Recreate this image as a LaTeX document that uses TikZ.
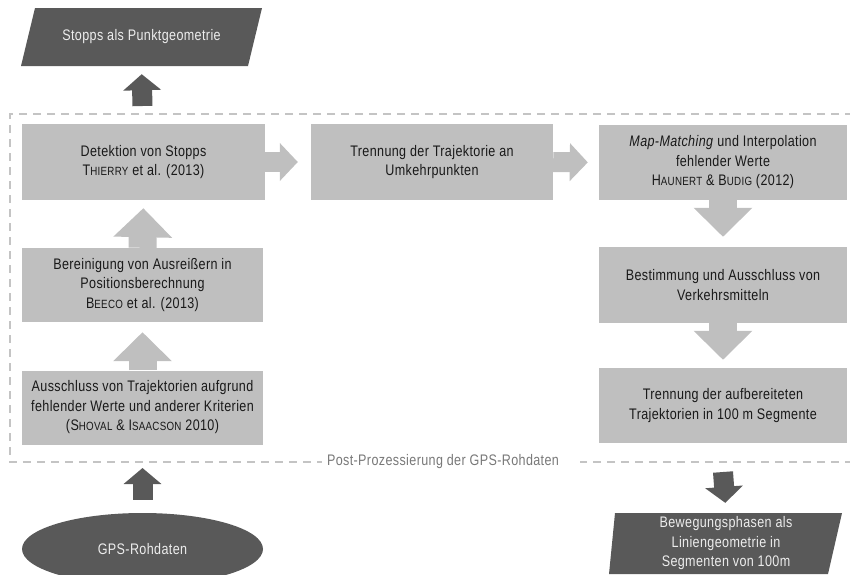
\documentclass[tikz,border=0pt]{standalone}
\usepackage{fontspec}
\setmainfont{Liberation Sans}
\newfontfamily\narrowfont[FakeStretch=0.82, LetterSpace=2.5]{Liberation Sans}
\usetikzlibrary{arrows.meta,shapes.geometric}
\definecolor{boxgray}{RGB}{191,191,191}
\definecolor{darkgray2}{RGB}{89,89,89}
\definecolor{dashgray}{RGB}{196,196,196}
\definecolor{labelgray}{RGB}{120,120,120}
\newcommand\fsc[2]{#1{\fontsize{11.9}{12}\selectfont #2}}
\tikzset{
  txt/.style={font=\narrowfont\fontsize{15.3}{19.5}\selectfont, align=center},
  box/.style={txt, fill=boxgray, text=black!90, inner sep=0pt},
  darktxt/.style={txt, text=white!93!black, inner sep=0pt},
  lightarrow/.style={draw=boxgray, line width=#1, -{Triangle[length=29pt,width=57pt]}},
  hlightarrow/.style={draw=boxgray, line width=20pt, -{Triangle[length=18pt,width=37pt]}},
  darkarrow/.style={draw=darkgray2, line width=20pt, -{Triangle[length=16pt,width=37pt]}},
  dashline/.style={draw=dashgray, line width=1.6pt, dash pattern=on 8pt off 6pt}
}
\begin{document}
\begin{tikzpicture}[x=1pt,y=-1pt]
\useasboundingbox (0,0) rectangle (850,574);
\clip (0,0) rectangle (850,574);

% dashed frame
\draw[dashline] (853,114) -- (10,114) -- (10,462) -- (322,462);
\draw[dashline] (853,462) -- (580,462);
\node[txt, text=labelgray, inner sep=0pt] (lab) at (443,462) {Post-Prozessierung der GPS-Rohdaten};

% top output
\fill[darkgray2] (35,8) -- (262,8) -- (248,66) -- (21,66) -- cycle;
\node[darktxt, minimum width=227pt, minimum height=58pt] (out1) at (141.5,37) {Stopps als Punktgeometrie};

% left column
\node[box, minimum width=243pt, minimum height=76pt] (det) at (143.5,162) {Detektion von Stopps\\\fsc{T}{HIERRY} et al. (2013)};
\node[box, minimum width=241pt, minimum height=74pt] (ber) at (142.5,285) {Bereinigung von Ausreißern in\\Positionsberechnung\\\fsc{B}{EECO} et al. (2013)};
\node[box, minimum width=241pt, minimum height=74pt] (aus) at (142.5,407.5) {Ausschluss von Trajektorien aufgrund\\fehlender Werte und anderer Kriterien\\(\fsc{S}{HOVAL} \& \fsc{I}{SAACSON} 2010)};

% middle
\node[box, minimum width=242pt, minimum height=76pt] (tre) at (432,162) {Trennung der Trajektorie an\\Umkehrpunkten};

% right column
\node[box, minimum width=248pt, minimum height=75pt] (map) at (723,162.5) {\textit{Map-Matching} und Interpolation\\fehlender Werte\\\fsc{H}{AUNERT} \& \fsc{B}{UDIG} (2012)};
\node[box, minimum width=248pt, minimum height=76pt] (bes) at (723,285) {Bestimmung und Ausschluss von\\Verkehrsmitteln};
\node[box, minimum width=248pt, minimum height=75pt] (seg) at (723,405.5) {Trennung der aufbereiteten\\Trajektorien in 100 m Segmente};

% inputs / outputs
\node[ellipse, fill=darkgray2, minimum width=241pt, minimum height=72pt, inner sep=0pt] (gps) at (142.5,549) {};
\node[darktxt] (gpst) at (142.5,549) {GPS-Rohdaten};
\fill[darkgray2] (615,513) -- (842,513) -- (828,574) -- (609,574) -- cycle;
\node[darktxt, minimum width=220pt, minimum height=61pt] (out2) at (726,543.5) {Bewegungsphasen als\\Liniengeometrie in\\Segmenten von 100m};

% coordinates for free ends
\coordinate (c1) at (142.5,106);
\coordinate (c2) at (142.5,468);
\coordinate (c3) at (723,472);

% light arrows
\draw[lightarrow=28pt, shorten >=10pt] (aus.north) -- (ber.south);
\draw[lightarrow=28pt, shorten >=8pt] (ber.north) -- (det.south);
\draw[lightarrow=28pt, shorten >=10pt] (map.south) -- (bes.north);
\draw[lightarrow=28pt, shorten >=8pt] (bes.south) -- (seg.north);
\draw[hlightarrow, shorten >=13pt] (det.east) -- (tre.west);
\draw[hlightarrow, shorten >=11pt] (tre.east) -- (map.west);

% dark arrows
\draw[darkarrow, shorten >=8pt] (c1) -- (out1.south);
\draw[darkarrow, shorten <=13pt] (gps.north) -- (c2);
\draw[darkarrow, shorten >=10pt] (c3) -- (out2.north);
\end{tikzpicture}
\end{document}
